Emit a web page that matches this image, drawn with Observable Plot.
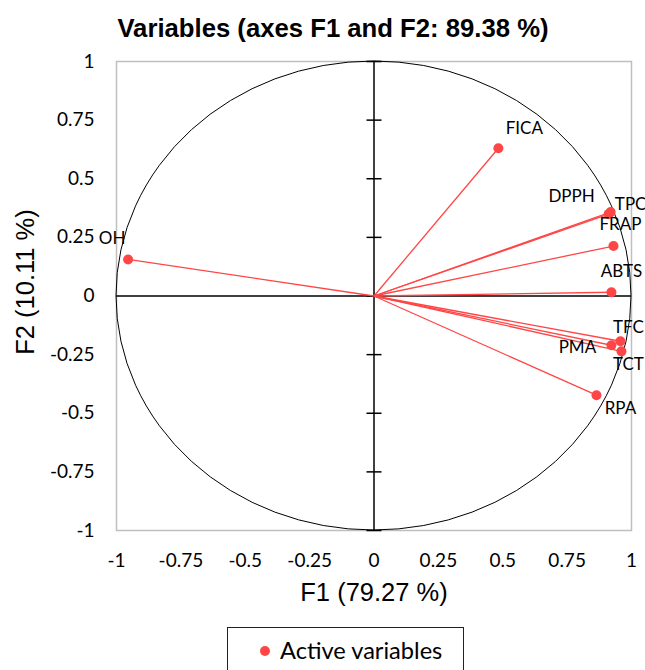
<!DOCTYPE html>
<html><head><meta charset="utf-8">
<script src="https://cdn.jsdelivr.net/npm/d3@7"></script>
<script src="https://cdn.jsdelivr.net/npm/@observablehq/plot@0.6"></script>
<style>
body{margin:0;background:#fff;width:645px;height:670px;overflow:hidden;position:relative;}
#title{position:absolute;left:0;top:13px;width:666px;text-align:center;font:bold 25.7px "Liberation Sans",Arial,sans-serif;line-height:30px;color:#000;}
#chart{position:absolute;left:0;top:48px;}
#legend{position:absolute;left:227px;top:627px;width:237px;height:60px;border:1.3px solid #222;box-sizing:border-box;font:23.6px Lato,sans-serif;color:#000;}
#legend .dot{position:absolute;left:32px;top:18px;width:10px;height:10px;border-radius:50%;background:#ff4646;}
#legend .lab{position:absolute;left:52px;top:8px;line-height:28px;}
</style></head><body>
<div id="title">Variables (axes F1 and F2: 89.38 %)</div>
<div id="chart"></div>
<div id="legend"><span class="dot"></span><span class="lab">Active variables</span></div>
<script>
// ---- data ----
const variables = ["FICA", "DPPH", "TPC", "FRAP", "ABTS", "TFC", "PMA", "TCT", "RPA", "OH"];
const f1 = [0.483, 0.911, 0.919, 0.930, 0.922, 0.957, 0.922, 0.961, 0.864, -0.955];
const f2 = [0.630, 0.349, 0.358, 0.213, 0.016, -0.193, -0.210, -0.236, -0.423, 0.156];
const xTicks = [-1, -0.75, -0.5, -0.25, 0, 0.25, 0.5, 0.75, 1];
const yTicks = [-1, -0.75, -0.5, -0.25, 0, 0.25, 0.5, 0.75, 1];
const titleText = "Variables (axes F1 and F2: 89.38 %)";
const xLabel = "F1 (79.27 %)";
const yLabel = "F2 (10.11 %)";

// ---- layout (label offsets in px) ----
const labelOffset = {
  FICA: [26, -20], DPPH: [-37, -18], TPC: [20, -8], FRAP: [7, -22], ABTS: [10, -21],
  TFC: [8, -14], PMA: [-34, 2], TCT: [7, 13], RPA: [24, 13], OH: [-16, -21]
};
const RED = "#ff4646";

const rows = variables.map((name, i) => ({name, f1: f1[i], f2: f2[i]}));

const hTick = {draw(ctx, size) { const r = Math.sqrt(size / Math.PI); ctx.moveTo(-r, 0); ctx.lineTo(r, 0); }};

function ellipseMark(index, scales) {
  const {x, y} = scales;
  const g = d3.create("svg:g");
  g.append("ellipse")
    .attr("cx", x(0)).attr("cy", y(0))
    .attr("rx", x(1) - x(0)).attr("ry", y(0) - y(1))
    .attr("fill", "none").attr("stroke", "#000").attr("stroke-width", 1);
  return g.node();
}

const labelMarks = rows.map(d => Plot.text([d], {
  x: "f1", y: "f2", text: "name",
  dx: labelOffset[d.name][0], dy: labelOffset[d.name][1],
  fontSize: 17, fontFamily: "Lato", fill: "#000"
}));

const chart = Plot.plot({
  width: 645, height: 575,
  marginLeft: 116, marginRight: 14, marginTop: 13, marginBottom: 93,
  x: {domain: [-1, 1]},
  y: {domain: [-1, 1]},
  style: {fontFamily: "Lato", background: "white", color: "#000"},
  marks: [
    Plot.axisX(xTicks, {tickSize: 0, tickPadding: 23, fontSize: 19, tickFormat: d => String(d), label: null}),
    Plot.axisY(yTicks, {tickSize: 0, tickPadding: 22, fontSize: 19, tickFormat: d => String(d), label: null}),
    Plot.frame({stroke: "#bfbfbf", strokeWidth: 1.5}),
    Plot.ruleX([0], {stroke: "#000", strokeWidth: 1.5}),
    Plot.ruleY([0], {stroke: "#000", strokeWidth: 1.5}),
    Plot.dot(yTicks, {x: 0, y: d => d, symbol: hTick, r: 7.5, stroke: "#000", strokeWidth: 1.5, fill: "none"}),
    ellipseMark,
    Plot.link(rows, {x1: 0, y1: 0, x2: "f1", y2: "f2", stroke: RED, strokeWidth: 1.3}),
    Plot.dot(rows, {x: "f1", y: "f2", r: 5, fill: RED}),
    ...labelMarks,
    Plot.text([xLabel], {frameAnchor: "bottom", dy: 70, fontSize: 25.5, fontFamily: "Liberation Sans", fill: "#000"}),
    Plot.text([yLabel], {frameAnchor: "left", textAnchor: "middle", dx: -91, dy: -14, rotate: -90, fontSize: 25.5, fontFamily: "Liberation Sans", fill: "#000"})
  ]
});
document.getElementById("chart").appendChild(chart);
document.getElementById("title").textContent = titleText;
</script>
</body></html>
